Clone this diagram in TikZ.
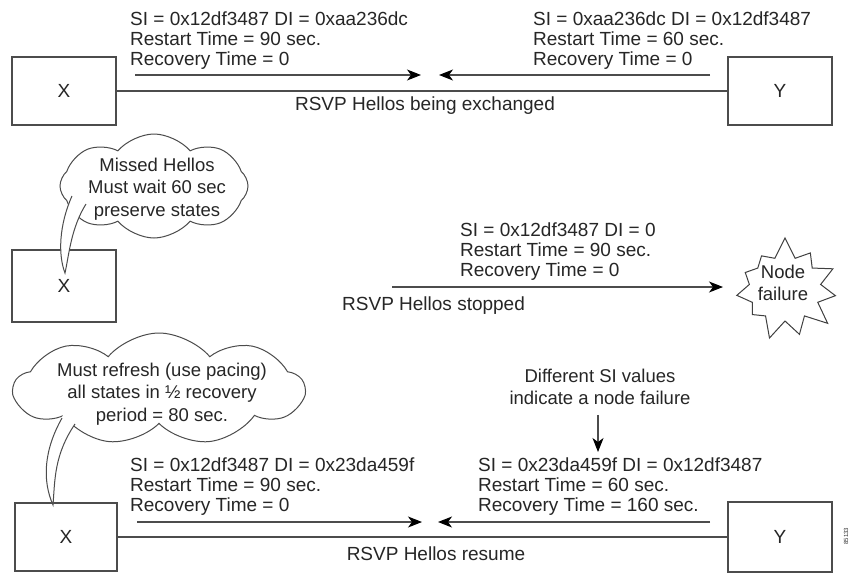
\documentclass[tikz,border=0pt]{standalone}
\usepackage{fontspec}
\setmainfont{Liberation Sans}
\usetikzlibrary{arrows.meta,shapes.symbols}

\tikzset{
	router/.style={draw=black!70, line width=1.1pt, fill=white, minimum width=104pt, minimum height=68pt, inner sep=0pt, text=black!85, font=\fontsize{19}{20}\selectfont},
	info/.style={inner sep=0pt, align=left, anchor=north west, text=black!85, font=\fontsize{19}{20}\selectfont},
	caption/.style={inner sep=0pt, anchor=base, text=black!85, font=\fontsize{19}{20}\selectfont},
	hello/.style={draw=black!70, line width=1.1pt, -{Stealth[length=14pt,width=11pt,inset=4pt,color=black]}},
	link/.style={draw=black!70, line width=1.1pt},
	thought/.style={cloud, cloud puffs=#1, cloud puff arc=100, cloud ignores aspect, draw=black!70, line width=1pt, fill=white},
	bubbletext/.style={inner sep=0pt, align=center, anchor=north, text=black!85, font=\fontsize{18.5}{22.5}\selectfont},
	burst/.style={starburst, starburst points=11, starburst point height=21pt, random starburst=7, draw=black!75, line width=1pt, fill=white, minimum width=114pt, minimum height=106pt},
	tail/.style={draw=black!70, line width=1pt}
}

\begin{document}
\begin{tikzpicture}[x=1pt,y=-1pt]
			%%%%% START %%%%%
			
			\fill[white] (0,0) rectangle (853,573);
			\useasboundingbox (0,0) rectangle (853,573);
			
			% hellos being exchanged
			\node[router] (x1) at (64,91) {X};
			\node[router] (y1) at (780,91) {Y};
			\draw[link] (x1) -- (y1);
			
			\coordinate (x1out) at (135,75);
			\coordinate (x1in) at (421,75);
			\coordinate (y1out) at (710,75);
			\coordinate (y1in) at (439,75);
			\draw[hello] (x1out) -- (x1in);
			\draw[hello] (y1out) -- (y1in);
			
			\node[info] (x1hello) at (130,11.5) {SI = 0x12df3487 DI = 0xaa236dc\\Restart Time = 90 sec.\\Recovery Time = 0};
			\node[info] (y1hello) at (533,11.5) {SI = 0xaa236dc DI = 0x12df3487\\Restart Time = 60 sec.\\Recovery Time = 0};
			\node[caption] (cap1) at (425,110) {RSVP Hellos being exchanged};
			
			% hellos stopped
			\node[thought=8, minimum width=188pt, minimum height=104pt] (miss) at (154,186) {};
			\node[bubbletext] (misstext) at (157,157.5) {Missed Hellos\\Must wait 60 sec\\preserve states};
			
			\node[router, minimum height=72pt] (x2) at (64,286) {X};
			\fill[white] (72,196) .. controls (59,225) and (58,255) .. (65,273) .. controls (69,255) and (71,228) .. (86,204) -- (90,188) -- (76,186) -- cycle;
			\draw[tail] (72,196) .. controls (59,225) and (58,255) .. (65,273) .. controls (69,255) and (71,228) .. (86,204);
			
			\node[burst] (fail) at (785,289) {};
			\node[bubbletext, font=\fontsize{18.5}{22}\selectfont] (failtext) at (783,265) {Node\\failure};
			
			\coordinate (x2out) at (392,287);
			\coordinate (failin) at (723,287);
			\draw[hello] (x2out) -- (failin);
			
			\node[info] (x2hello) at (460,222.5) {SI = 0x12df3487 DI = 0\\Restart Time = 90 sec.\\Recovery Time = 0};
			\node[caption, anchor=base west] (cap2) at (342,310) {RSVP Hellos stopped};
			
			% hellos resume
			\node[thought=9, minimum width=290pt, minimum height=112pt] (refresh) at (159,389) {};
			\node[bubbletext] (refreshtext) at (162,362.5) {Must refresh (use pacing)\\all states in ½ recovery\\period = 80 sec.};
			
			\node[router, minimum width=102pt] (x3) at (66,537) {X};
			\fill[white] (62,418) .. controls (44,450) and (42,480) .. (53,505) .. controls (55,480) and (54,455) .. (75,424) -- (76,412) -- (64,410) -- cycle;
			\draw[tail] (62,418) .. controls (44,450) and (42,480) .. (53,505) .. controls (55,480) and (54,455) .. (75,424);
			
			\node[router, minimum height=70pt] (y3) at (780,537) {Y};
			\draw[link] (x3) -- (y3);
			
			\coordinate (x3out) at (137,522);
			\coordinate (x3in) at (422,522);
			\coordinate (y3out) at (710,522);
			\coordinate (y3in) at (438,522);
			\draw[hello] (x3out) -- (x3in);
			\draw[hello] (y3out) -- (y3in);
			
			\node[info] (x3hello) at (130,457.5) {SI = 0x12df3487 DI = 0x23da459f\\Restart Time = 90 sec.\\Recovery Time = 0};
			\node[info] (y3hello) at (478,457.5) {SI = 0x23da459f DI = 0x12df3487\\Restart Time = 60 sec.\\Recovery Time = 160 sec.};
			\node[caption] (cap3) at (436,560) {RSVP Hellos resume};
			
			\node[bubbletext] (note) at (600,368.5) {Different SI values\\indicate a node failure};
			\coordinate (notetip) at (598,452);
			\draw[hello] ([yshift=-10pt]note.south -| notetip) -- (notetip);
			
			\node[rotate=90, inner sep=0pt, text=black!80, font=\fontsize{6}{6}\selectfont] (figid) at (846,536) {85133};
			
			%%%%% END %%%%%
\end{tikzpicture}
\end{document}
